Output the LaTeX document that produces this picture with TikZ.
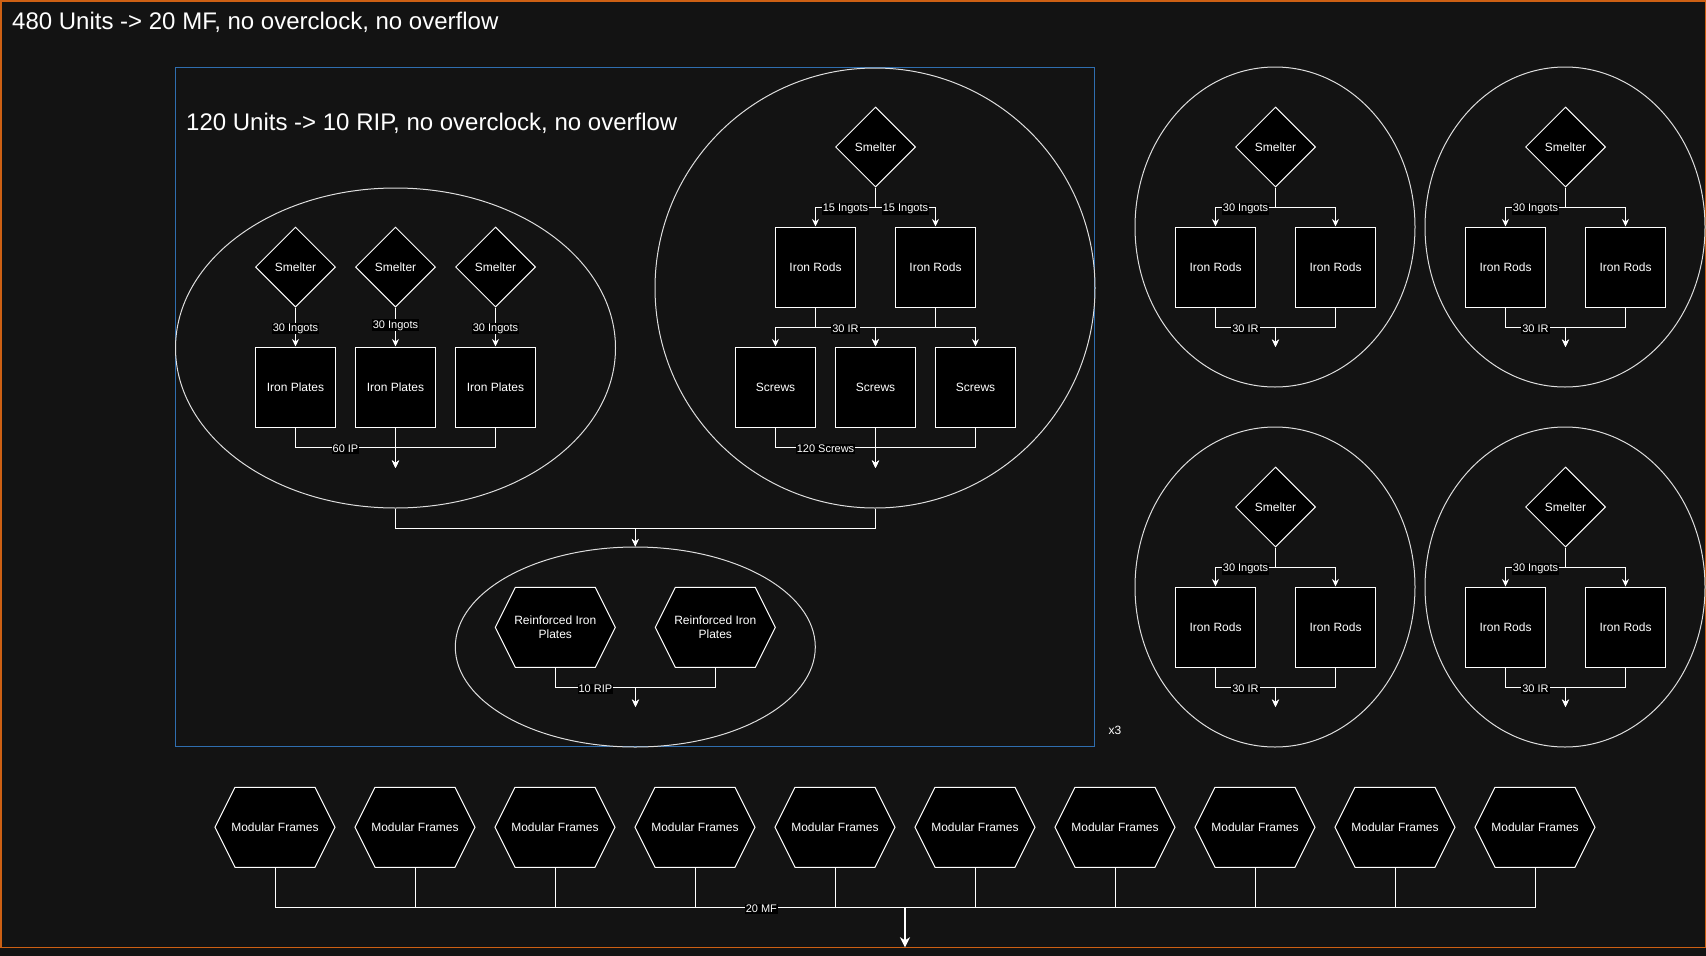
\documentclass[tikz,border=0pt]{standalone}
\usepackage{fontspec}
\setmainfont{Liberation Sans}
\usetikzlibrary{shapes.geometric,arrows.meta}

\definecolor{canvas}{RGB}{19,19,19}
\definecolor{frameorange}{RGB}{205,96,20}
\definecolor{groupblue}{RGB}{47,110,175}
\definecolor{ringgray}{RGB}{222,222,222}

\tikzset{
  px/.style={x=1pt,y=-1pt},
  unit/.style={draw=white, fill=black, line width=1pt, minimum width=80pt,
    minimum height=80pt, inner sep=0pt, text=white,
    font=\fontsize{12}{14}\selectfont},
  machine/.style={unit, rectangle},
  smelter/.style={unit, diamond, aspect=1},
  hexlabel/.style={rectangle, minimum width=120pt, minimum height=80pt,
    inner sep=0pt, text=white, align=center,
    font=\fontsize{12}{14}\selectfont},
  hexline/.style={draw=white, fill=black, line width=1pt},
  ring/.style={ellipse, draw=ringgray, line width=1pt, inner sep=0pt},
  belt/.style={draw=white, line width=1pt},
  flow/.style={belt, -{Stealth[length=7.5pt,width=7pt,inset=2.5pt]}},
  mainflow/.style={draw=white, line width=2pt,
    -{Stealth[length=10pt,width=10pt,inset=3pt]}},
  rate/.style={fill=black, text=white, inner sep=1pt, yshift=-1.5pt,
    font=\fontsize{11}{12}\selectfont},
  heading/.style={text=white, anchor=base west, inner sep=0pt,
    font=\fontsize{24}{28}\selectfont},
}

% hexagonal production unit: name, centre x, centre y, label
\newcommand{\hexunit}[4]{%
  \filldraw[hexline] (#2-60,#3) -- (#2-40,#3-40) -- (#2+40,#3-40)
    -- (#2+60,#3) -- (#2+40,#3+40) -- (#2-40,#3+40) -- cycle;
  \node[hexlabel] (#1) at (#2,#3) {#4};}

\begin{document}
\begin{tikzpicture}[px]
% background and outer frame
\fill[canvas] (0,0) rectangle (1706,956);
\draw[frameorange, line width=1.5pt] (0.75,0.75) rectangle (1705.25,947.5);
\node[heading] (title) at (12,29) {480 Units -> 20 MF, no overclock, no overflow};

% reinforced iron plate group
\draw[groupblue, line width=1pt] (175,67.5) rectangle (1094.5,746.5);
\node[heading] (riptitle) at (186,130.5) {120 Units -> 10 RIP, no overclock, no overflow};
\node[text=white, font=\fontsize{12}{14}\selectfont] (times) at (1115,730) {x3};

% iron plates
\node[ring, minimum width=440pt, minimum height=320pt] (plring) at (395.5,348) {};
\foreach \i/\x in {1/295.5,2/395.5,3/495.5} {
  \node[smelter] (ps\i) at (\x,267) {Smelter};
  \node[machine] (pl\i) at (\x,387) {Iron Plates};
}
\draw[flow] (ps1) -- node[rate]{30 Ingots} (pl1);
\draw[flow] (ps2) -- node[rate,pos=0.42]{30 Ingots} (pl2);
\draw[flow] (ps3) -- node[rate]{30 Ingots} (pl3);
\coordinate (plout) at (395.5,468);
\draw[flow] (pl2.south) -- (plout);
\draw[flow] (pl3.south) -- ++(0,20) -| (plout);
\draw[flow] (pl1.south) -- ++(0,20) -| node[rate,pos=0.25]{60 IP} (plout);

% iron rods and screws
\node[ring, minimum width=440pt, minimum height=440pt] (scring) at (875,288) {};
\node[smelter] (rs) at (875.5,147) {Smelter};
\node[machine] (rr1) at (815.5,267) {Iron Rods};
\node[machine] (rr2) at (935.5,267) {Iron Rods};
\foreach \i/\x in {1/775.5,2/875.5,3/975.5}
  \node[machine] (sc\i) at (\x,387) {Screws};
\draw[flow] (rs.south) -- ++(0,20) -| node[rate,pos=0.25]{15 Ingots} (rr1.north);
\draw[flow] (rs.south) -- ++(0,20) -| node[rate,pos=0.25]{15 Ingots} (rr2.north);
\draw[flow] (rr1.south) -- ++(0,20) -| (sc1.north);
\draw[flow] (rr2.south) -- ++(0,20) -| (sc2.north);
\draw[flow] (rr2.south) -- ++(0,20) -| (sc3.north);
\draw[flow] (rr1.south) -- ++(0,20) -| node[rate,pos=0.25]{30 IR} (sc2.north);
\coordinate (scout) at (875.5,468);
\draw[flow] (sc2.south) -- (scout);
\draw[flow] (sc3.south) -- ++(0,20) -| (scout);
\draw[flow] (sc1.south) -- ++(0,20) -| node[rate,pos=0.25]{120 Screws} (scout);

% reinforced iron plates
\node[ring, minimum width=360pt, minimum height=200pt] (ripring) at (635.3,647) {};
\draw[flow] (plring.south) -- ++(0,20) -| (ripring.north);
\draw[flow] (scring.south) -- ++(0,20) -| (ripring.north);
\hexunit{rip1}{555.3}{627.3}{Reinforced Iron\\Plates}
\hexunit{rip2}{715.3}{627.3}{Reinforced Iron\\Plates}
\coordinate (ripout) at (635.5,707);
\draw[flow] (rip2.south) -- ++(0,20) -| (ripout);
\draw[flow] (rip1.south) -- ++(0,20) -| node[rate,pos=0.25]{10 RIP} (ripout);

% extra iron rod cells
\foreach \n/\cx/\cy in {a/1275/227, b/1565/227, c/1275/587, d/1565/587} {
  \node[ring, minimum width=280pt, minimum height=320pt] (ring\n) at (\cx,\cy) {};
  \node[smelter] (sm\n) at (\cx+0.5,\cy-80) {Smelter};
  \node[machine] (rl\n) at (\cx-59.5,\cy+40) {Iron Rods};
  \node[machine] (rr\n) at (\cx+60.5,\cy+40) {Iron Rods};
  \coordinate (ro\n) at (\cx+0.5,\cy+120);
  \draw[flow] (sm\n.south) -- ++(0,20) -| (rr\n.north);
  \draw[flow] (sm\n.south) -- ++(0,20) -| node[rate,pos=0.25]{30 Ingots} (rl\n.north);
  \draw[flow] (rr\n.south) -- ++(0,20) -| (ro\n);
  \draw[flow] (rl\n.south) -- ++(0,20) -| node[rate,pos=0.25]{30 IR} (ro\n);
}

% modular frames
\foreach \i in {0,...,9} {\hexunit{mf\i}{275+140*\i}{827.3}{Modular Frames}}
\coordinate (mfjoin) at (905,907.3);
\coordinate (mfout) at (905,947.3);
\foreach \i in {0,1,2,4,5,6,7,8,9} \draw[belt] (mf\i.south) |- (mfjoin);
\draw[belt] (mf3.south) |- node[rate,pos=0.658]{20 MF} (mfjoin);
\draw[mainflow] (mfjoin) -- (mfout);
\end{tikzpicture}
\end{document}
